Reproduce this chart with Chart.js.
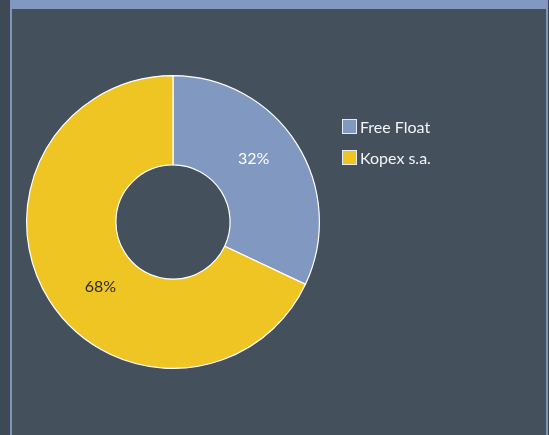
<!DOCTYPE html>
<html lang="pl">
<head>
<meta charset="UTF-8">
<title>Akcjonariat</title>
<style>
    body {
        margin: 0;
        width: 549px;
        height: 435px;
        overflow: hidden;
        background-color: #3e4955;
        font-family: Lato, "Open Sans", sans-serif;
    }

    #panel {
        position: absolute;
        left: 10px;
        top: 0;
        width: 534px;
        height: 435px;
        background-color: #44505c;
        border-left: 2px solid #7d96bc;
        border-right: 2px solid #7d96bc;
        border-top: 9px solid #8199c0;
    }

    #chart {
        position: absolute;
        left: 0;
        top: 0;
    }

    #legend {
        position: absolute;
        left: 342px;
        top: 116px;
        color: #f2f4f8;
        font-size: 16px;
    }

    .item {
        display: flex;
        align-items: center;
        height: 21px;
        margin-bottom: 10px;
    }

    .box {
        width: 13px;
        height: 13px;
        border: 1px solid #e8ecf2;
        margin-right: 3px;
    }
</style>
</head>
<body>
<div id="panel"></div>
<canvas id="chart" width="549" height="435"></canvas>
<div id="legend"></div>

<script src="https://cdn.jsdelivr.net/npm/chart.js"></script>
<script>
    // shareholders
    const labels = ['Free Float', 'Kopex s.a.'];
    const shares = [32, 68];
    const colors = ['#8199c0', '#efc523'];
    const labelColors = ['#ffffff', '#2b2b2b'];

    // html legend built from the same arrays
    const legend = document.getElementById('legend');
    labels.forEach((name, i) => {
        const row = document.createElement('div');
        row.className = 'item';
        const box = document.createElement('span');
        box.className = 'box';
        box.style.backgroundColor = colors[i];
        const txt = document.createElement('span');
        txt.textContent = name;
        row.appendChild(box);
        row.appendChild(txt);
        legend.appendChild(row);
    });

    // percent labels inside the slices
    const percentLabels = {
        id: 'percentLabels',
        afterDatasetsDraw(chart) {
            const ctx = chart.ctx;
            const meta = chart.getDatasetMeta(0);
            ctx.save();
            ctx.font = '16px Lato, "Open Sans", sans-serif';
            ctx.textAlign = 'center';
            ctx.textBaseline = 'middle';
            meta.data.forEach((arc, i) => {
                const mid = (arc.startAngle + arc.endAngle) / 2 - 0.13;
                const r = (arc.innerRadius + arc.outerRadius) / 2 - 2;
                ctx.fillStyle = labelColors[i];
                ctx.fillText(shares[i] + '%', arc.x + Math.cos(mid) * r + 4, arc.y + Math.sin(mid) * r + 1);
            });
            ctx.restore();
        }
    };

    new Chart(document.getElementById('chart'), {
        type: 'doughnut',
        data: {
            labels: labels,
            datasets: [{
                data: shares,
                backgroundColor: colors,
                borderColor: '#ffffff',
                borderWidth: 1.2
            }]
        },
        options: {
            responsive: false,
            animation: false,
            cutout: '39%',
            layout: {
                padding: { left: 26, top: 75, right: 229, bottom: 66 }
            },
            plugins: {
                legend: { display: false },
                tooltip: { enabled: false }
            }
        },
        plugins: [percentLabels]
    });
</script>
</body>
</html>
